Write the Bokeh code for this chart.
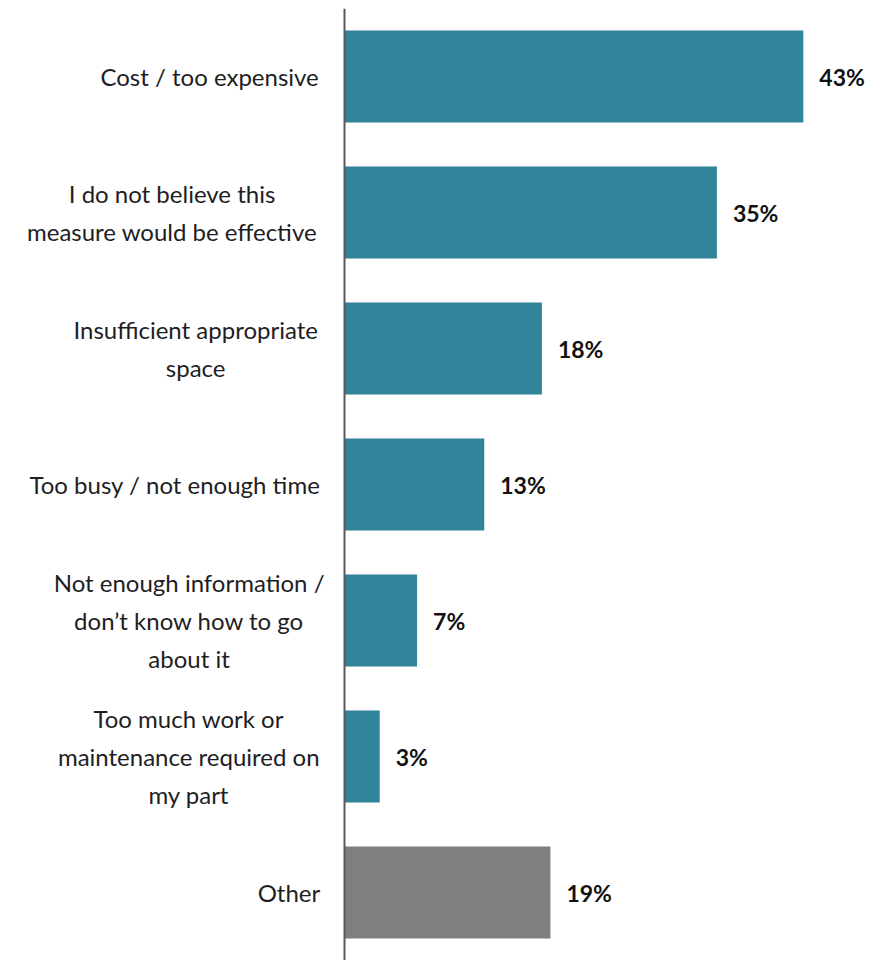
from bokeh.plotting import figure
from bokeh.models import ColumnDataSource, FactorRange, Range1d, Span
from bokeh.core.properties import value
from bokeh.embed import file_html
from bokeh.resources import INLINE

categories = [
    "Cost / too expensive",
    "I do not believe this\nmeasure would be effective",
    "Insufficient appropriate\nspace",
    "Too busy / not enough time",
    "Not enough information /\ndon\u2019t know how to go\nabout it",
    "Too much work or\nmaintenance required on\nmy part",
    "Other",
]
values = [43.0, 34.9, 18.5, 13.1, 6.8, 3.3, 19.3]
pct_labels = ["43%", "35%", "18%", "13%", "7%", "3%", "19%"]
colors = ["#31849A"] * 6 + ["#7F7F7F"]

PX_PER_UNIT = 10.67
AXIS_PX = 344
LABEL_FONT_PX = 24
LABEL_RIGHT_PX = 317


def est_width(line, size):
    w = 0.0
    for ch in line:
        if ch in "ilj":
            w += 0.23
        elif ch in "'\u2019":
            w += 0.22
        elif ch in "tfr":
            w += 0.34
        elif ch == " ":
            w += 0.25
        elif ch == "/":
            w += 0.33
        elif ch == "I":
            w += 0.28
        elif ch in "mw":
            w += 0.80
        elif ch.isupper():
            w += 0.64
        else:
            w += 0.53
    return w * size


label_x = []
for c in categories:
    wmax = max(est_width(l, LABEL_FONT_PX) for l in c.split("\n"))
    cx_px = LABEL_RIGHT_PX - wmax / 2
    label_x.append((cx_px - AXIS_PX) / PX_PER_UNIT)

src = ColumnDataSource(dict(
    cat=categories, val=values, color=colors, pct=pct_labels,
    pct_x=[v + 16 / PX_PER_UNIT for v in values], lab_x=label_x,
))

p = figure(
    width=884, height=960,
    y_range=FactorRange(factors=categories[::-1], range_padding=0),
    x_range=Range1d(-AXIS_PX / PX_PER_UNIT, (884 - AXIS_PX) / PX_PER_UNIT),
    output_backend="svg", toolbar_location=None,
    x_axis_location=None, y_axis_location=None,
    min_border_top=8, min_border_left=0, min_border_right=0, min_border_bottom=0,
)
p.outline_line_color = None
p.xgrid.visible = False
p.ygrid.visible = False
p.background_fill_color = "white"
p.border_fill_color = "white"

p.hbar(y="cat", left=0, right="val", height=0.675, color="color", line_color=None, source=src)

p.add_layout(Span(location=0, dimension="height", line_color="#595959", line_width=2))

p.text(x="pct_x", y="cat", text="pct", source=src,
       text_font=value("Lato"), text_font_size="23px", text_font_style="bold",
       text_color="#111111", text_align="left", text_baseline="middle")

p.text(x="lab_x", y="cat", text="cat", source=src,
       text_font=value("Lato"), text_font_size=f"{LABEL_FONT_PX}px",
       text_color="#1e1e24", text_align="center", text_baseline="middle",
       text_line_height=1.3)

open("out.html", "w").write(file_html(p, INLINE))
